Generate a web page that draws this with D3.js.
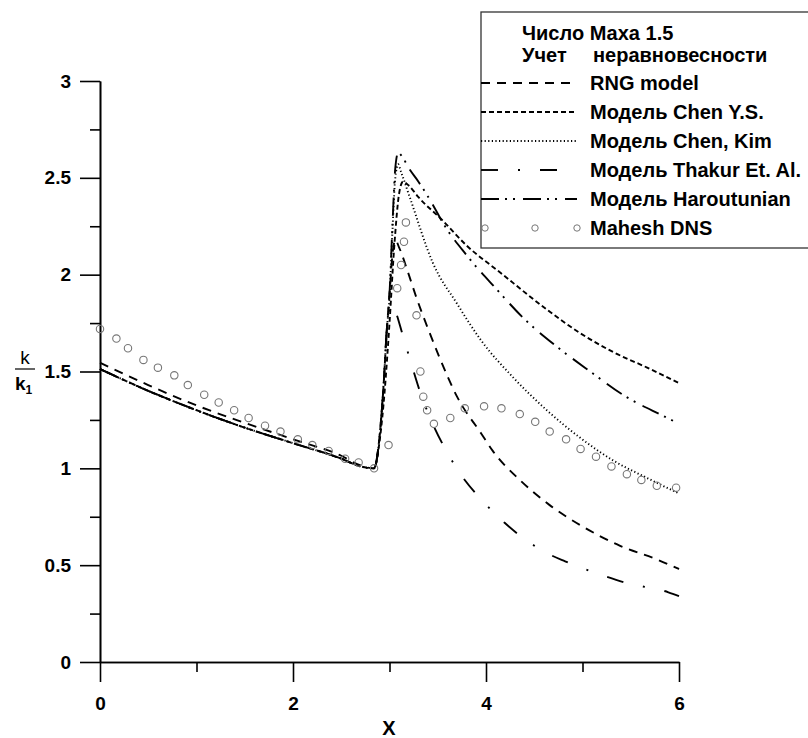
<!DOCTYPE html>
<html>
<head>
<meta charset="utf-8">
<script src="https://cdn.jsdelivr.net/npm/d3@7/dist/d3.min.js"></script>
<style>
  body { margin: 0; background: #fff; }
  text { font-family: "Liberation Sans", Arial, sans-serif; font-weight: bold; fill: #000; }
</style>
</head>
<body>
<svg id="chart" width="808" height="738"></svg>
<script>
// values
const rngX = [0, 0.5, 1, 1.5, 2, 2.5, 2.7, 2.84, 2.9, 2.94, 2.97, 3.0, 3.03, 3.06, 3.1, 3.2, 3.28, 3.4, 3.52, 3.7, 3.95, 4.07, 4.35, 4.66, 5.0, 5.39, 5.77, 6];
const rngY = [1.545, 1.43, 1.325, 1.235, 1.15, 1.065, 1.015, 1.0, 1.18, 1.44, 1.70, 1.9, 2.1, 2.18, 2.14, 2.0, 1.88, 1.72, 1.57, 1.37, 1.18, 1.09, 0.94, 0.81, 0.70, 0.60, 0.53, 0.48];

const chenX = [0, 0.5, 1, 1.5, 2, 2.5, 2.7, 2.84, 2.9, 2.95, 3.0, 3.05, 3.1, 3.14, 3.2, 3.3, 3.55, 3.8, 4.15, 4.63, 4.97, 5.32, 5.67, 6];
const chenY = [1.513, 1.40, 1.30, 1.21, 1.13, 1.05, 1.01, 1.0, 1.15, 1.4, 1.75, 2.15, 2.42, 2.48, 2.46, 2.40, 2.28, 2.15, 2.01, 1.82, 1.70, 1.60, 1.52, 1.44];

const kimX = [0, 0.5, 1, 1.5, 2, 2.5, 2.7, 2.84, 2.9, 2.94, 2.97, 3.0, 3.03, 3.06, 3.09, 3.12, 3.21, 3.45, 3.7, 3.95, 4.28, 4.63, 4.97, 5.32, 5.67, 6];
const kimY = [1.513, 1.40, 1.30, 1.21, 1.13, 1.05, 1.01, 1.0, 1.18, 1.44, 1.70, 1.88, 2.22, 2.5, 2.57, 2.53, 2.40, 2.06, 1.85, 1.66, 1.47, 1.30, 1.16, 1.04, 0.95, 0.87];

const thakurX = [0, 0.5, 1, 1.5, 2, 2.5, 2.7, 2.84, 2.9, 2.94, 2.97, 3.0, 3.03, 3.07, 3.13, 3.22, 3.32, 3.43, 3.6, 3.75, 3.95, 4.19, 4.64, 4.82, 5.25, 5.44, 5.89, 6];
const thakurY = [1.513, 1.40, 1.30, 1.21, 1.13, 1.05, 1.01, 1.0, 1.18, 1.44, 1.70, 1.82, 1.85, 1.80, 1.70, 1.55, 1.39, 1.25, 1.08, 0.96, 0.84, 0.72, 0.56, 0.52, 0.44, 0.41, 0.36, 0.34];

const harX = [0, 0.5, 1, 1.5, 2, 2.5, 2.7, 2.84, 2.9, 2.94, 2.97, 3.0, 3.03, 3.06, 3.09, 3.13, 3.2, 3.3, 3.45, 3.55, 3.8, 4.1, 4.4, 4.73, 5.08, 5.45, 5.84, 6];
const harY = [1.513, 1.40, 1.30, 1.21, 1.13, 1.05, 1.01, 1.0, 1.18, 1.44, 1.70, 1.90, 2.25, 2.55, 2.63, 2.61, 2.55, 2.48, 2.36, 2.27, 2.10, 1.93, 1.77, 1.63, 1.50, 1.37, 1.27, 1.23];

const dnsX = [0, 0.17, 0.29, 0.45, 0.6, 0.77, 0.91, 1.08, 1.23, 1.39, 1.54, 1.71, 1.87, 2.05, 2.2, 2.37, 2.54, 2.68, 2.84, 2.99, 3.08, 3.12, 3.15, 3.17, 3.28, 3.32, 3.35, 3.39, 3.46, 3.63, 3.78, 3.98, 4.16, 4.35, 4.51, 4.66, 4.83, 4.98, 5.14, 5.3, 5.46, 5.61, 5.77, 5.97];
const dnsY = [1.72, 1.67, 1.62, 1.56, 1.52, 1.48, 1.43, 1.38, 1.34, 1.30, 1.26, 1.22, 1.19, 1.15, 1.12, 1.09, 1.05, 1.03, 1.0, 1.12, 1.93, 2.05, 2.17, 2.27, 1.79, 1.50, 1.37, 1.30, 1.23, 1.26, 1.31, 1.32, 1.31, 1.28, 1.24, 1.19, 1.15, 1.10, 1.06, 1.01, 0.97, 0.94, 0.91, 0.90];

const xTicks = [0, 2, 4, 6];
const xMinor = [1, 3, 5];
const yTicks = [0, 0.5, 1, 1.5, 2, 2.5, 3];
const yMinor = [0.25, 0.75, 1.25, 1.75, 2.25, 2.75];

const headerLines = ["Число Маха 1.5", "Учет", "неравновесности"];

const series = [
    { name: "RNG model", x: rngX, y: rngY, dash: "9,7" },
    { name: "Модель Chen Y.S.", x: chenX, y: chenY, dash: "5,3" },
    { name: "Модель Chen, Kim", x: kimX, y: kimY, dash: "1.2,2.4" },
    { name: "Модель Thakur Et. Al.", x: thakurX, y: thakurY, dash: "17,20,2,20" },
    { name: "Модель Haroutunian", x: harX, y: harY, dash: "18,6,2,6,2,8" }
];

const svg = d3.select("#chart");

const x = d3.scaleLinear().domain([0, 6]).range([100, 679]);
const y = d3.scaleLinear().domain([0, 3]).range([662, 81]);

// axes
function styleAxis(g) {
    g.selectAll("path, line").attr("stroke", "#000").attr("stroke-width", 1.6);
    g.selectAll("text").style("font-family", "'Liberation Sans', Arial, sans-serif")
        .style("font-weight", "bold").style("font-size", "19px");
}

svg.append("g")
    .attr("transform", `translate(0,${y(0)})`)
    .call(d3.axisBottom(x).tickValues(xMinor).tickSize(10).tickSizeOuter(0).tickFormat(""))
    .call(styleAxis);
svg.append("g")
    .attr("transform", `translate(0,${y(0)})`)
    .call(d3.axisBottom(x).tickValues(xTicks).tickSize(20).tickSizeOuter(0).tickPadding(15).tickFormat(d3.format("d")))
    .call(styleAxis);

svg.append("g")
    .attr("transform", `translate(${x(0)},0)`)
    .call(d3.axisLeft(y).tickValues(yMinor).tickSize(10).tickSizeOuter(0).tickFormat(""))
    .call(styleAxis);
svg.append("g")
    .attr("transform", `translate(${x(0)},0)`)
    .call(d3.axisLeft(y).tickValues(yTicks).tickSize(20).tickSizeOuter(0).tickPadding(9).tickFormat(d => d))
    .call(styleAxis);

// axis titles
svg.append("text").attr("x", 389).attr("y", 735).attr("text-anchor", "middle")
    .style("font-size", "20px").text("X");

svg.append("text").attr("x", 25).attr("y", 364).attr("text-anchor", "middle")
    .style("font-size", "19px").style("font-weight", "normal").text("k");
svg.append("line").attr("x1", 15).attr("x2", 35).attr("y1", 369).attr("y2", 369)
    .attr("stroke", "#000").attr("stroke-width", 1.2);
const k1 = svg.append("text").attr("x", 15).attr("y", 390).style("font-size", "19px");
k1.append("tspan").text("k");
k1.append("tspan").attr("dy", 4).style("font-size", "12px").text("1");

// curves
const line = d3.line()
    .x(d => x(d[0]))
    .y(d => y(d[1]))
    .curve(d3.curveMonotoneX);

series.forEach(s => {
    svg.append("path")
        .datum(d3.zip(s.x, s.y))
        .attr("d", line)
        .attr("fill", "none")
        .attr("stroke", "#000")
        .attr("stroke-width", 1.9)
        .attr("stroke-dasharray", s.dash);
});

svg.append("g").selectAll("circle")
    .data(d3.zip(dnsX, dnsY))
    .join("circle")
    .attr("cx", d => x(d[0]))
    .attr("cy", d => y(d[1]))
    .attr("r", 3.7)
    .attr("fill", "none")
    .attr("stroke", "#777")
    .attr("stroke-width", 1.1);

// legend
const legend = svg.append("g");
legend.append("rect")
    .attr("x", 481).attr("y", 12).attr("width", 340).attr("height", 236)
    .attr("fill", "#fff").attr("stroke", "#333").attr("stroke-width", 1.3);

legend.append("text").attr("x", 522).attr("y", 40).style("font-size", "20px").text(headerLines[0]);
legend.append("text").attr("x", 522).attr("y", 62).style("font-size", "20px").text(headerLines[1]);
legend.append("text").attr("x", 593).attr("y", 62).style("font-size", "20px").text(headerLines[2]);

const rowY = d3.scaleLinear().domain([0, 5]).range([83, 228]);

series.forEach((s, i) => {
    legend.append("line")
        .attr("x1", 481).attr("x2", 577)
        .attr("y1", rowY(i)).attr("y2", rowY(i))
        .attr("stroke", "#000").attr("stroke-width", 1.9)
        .attr("stroke-dasharray", s.dash);
    legend.append("text").attr("x", 590).attr("y", rowY(i) + 7)
        .style("font-size", "20px").text(s.name);
});

legend.selectAll(".lc")
    .data([485, 535, 577])
    .join("circle")
    .attr("cx", d => d).attr("cy", rowY(5))
    .attr("r", 3.2).attr("fill", "none").attr("stroke", "#777").attr("stroke-width", 1);
legend.append("text").attr("x", 590).attr("y", rowY(5) + 7)
    .style("font-size", "20px").text("Mahesh DNS");
</script>
</body>
</html>
